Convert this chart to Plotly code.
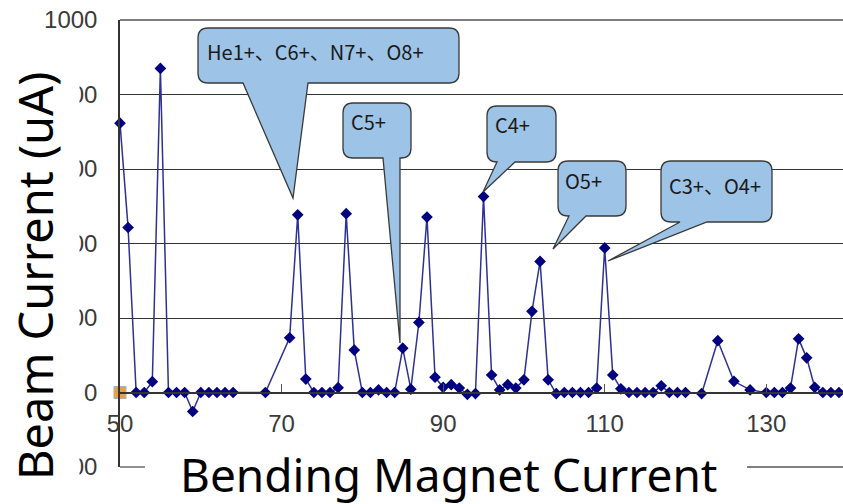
import plotly.graph_objects as go

# ---------------- data ----------------
bend_current = [50, 51, 52, 53, 54, 55, 56, 57, 58, 59, 60, 61, 62, 63, 64, 68,
                71, 72, 73, 74, 75, 76, 77, 78, 79, 80, 81, 82, 83, 84, 85, 86, 87, 88, 89, 90,
                91, 92, 93, 94, 95, 96, 97, 98, 99, 100, 101, 102, 103, 104, 105, 106, 107, 108, 109, 110,
                111, 112, 113, 114, 115, 116, 117, 118, 119, 120, 122, 124, 126, 128,
                130, 131, 132, 133, 134, 135, 136, 137, 138, 139]
beam_current = [723, 443, 0, 0, 29, 870, 0, 0, 0, -51, 0, 0, 0, 0, 0, 0,
                147, 477, 36, 0, 0, 0, 13, 480, 114, 0, 0, 7, 0, 0, 119, 9, 188, 471, 41, 14,
                21, 12, -5, -3, 526, 47, 7, 21, 12, 34, 218, 352, 34, -3, 0, 0, 0, 0, 12, 388,
                47, 10, 0, 0, 0, 0, 18, 0, 0, 0, -3, 139, 30, 7,
                0, 0, 0, 12, 144, 93, 14, 0, 0, 0]
second_x = [50]
second_y = [0]
x_ticks = [50, 70, 90, 110, 130]
y_ticks = [-200, 0, 200, 400, 600, 800, 1000]
callout_texts = ["He1+、C6+、N7+、O8+", "C5+", "C4+", "O5+", "C3+、O4+"]

# ---------------- geometry ----------------
W, H = 843, 504
L, R, T, B = 120, 0, 20, 37
XR = [50, 139.5]
YR = [-200, 1000]
pw = W - L - R
ph = H - T - B


def dx(px):
    return XR[0] + (px - L) / pw * (XR[1] - XR[0])


def dy(py):
    return YR[1] - (py - T) / ph * (YR[1] - YR[0])


def pxp(px):
    return (px - L) / pw


def pyp(py):
    return (H - B - py) / ph


# callout geometry in pixels: box(l,t,r,b), pointer base (b1,b2), tip (tx,ty), text anchor (x,y)
callouts = [
    dict(box=(198, 28, 459, 83), base=(243, 308), tip=(293, 198), txt=(205, 51)),
    dict(box=(343, 103, 411, 158), base=(383, 400), tip=(400, 343), txt=(349, 121)),
    dict(box=(487, 106, 556, 162), base=(497, 515), tip=(483, 192), txt=(493, 124)),
    dict(box=(558, 161, 626, 216), base=(569, 586), tip=(553, 249), txt=(563, 180)),
    dict(box=(661, 161, 772, 222), base=(680, 707), tip=(608, 261), txt=(667, 185)),
]


def callout_path(box, base, tip, rad=10):
    l, t, r, b = box
    b1, b2 = base
    tx, ty = tip

    def p(x, y):
        return f"{dx(x):.4f},{dy(y):.4f}"

    s = (f"M{p(l + rad, t)} L{p(r - rad, t)} Q{p(r, t)} {p(r, t + rad)} "
         f"L{p(r, b - rad)} Q{p(r, b)} {p(r - rad, b)} L{p(b2, b)} L{p(tx, ty)} "
         f"L{p(b1, b)} L{p(l + rad, b)} Q{p(l, b)} {p(l, b - rad)} "
         f"L{p(l, t + rad)} Q{p(l, t)} {p(l + rad, t)} Z")
    return s


fig = go.Figure()
fig.add_trace(go.Scatter(
    x=bend_current, y=beam_current, mode="lines+markers",
    line=dict(color="#2E3192", width=1.5),
    marker=dict(symbol="diamond", size=9, color="#000080"),
    cliponaxis=False, showlegend=False))
fig.add_trace(go.Scatter(
    x=second_x, y=second_y, mode="markers",
    marker=dict(symbol="square-x", size=12, color="#F59A35",
                line=dict(color="#B0B0B0", width=1)),
    cliponaxis=False, showlegend=False))

shapes = []
# plot frame pieces: top border and the visible ends of the bottom border
shapes.append(dict(type="line", xref="paper", yref="paper", x0=0, x1=1, y0=1, y1=1,
                   line=dict(color="#555", width=1.3), layer="below"))
shapes.append(dict(type="line", xref="paper", yref="paper", x0=0, x1=pxp(145), y0=0, y1=0,
                   line=dict(color="#555", width=1.3), layer="below"))
shapes.append(dict(type="line", xref="paper", yref="paper", x0=pxp(747), x1=1, y0=0, y1=0,
                   line=dict(color="#555", width=1.3), layer="below"))
for c in callouts:
    shapes.append(dict(type="path", xref="x", yref="y", layer="above",
                       path=callout_path(c["box"], c["base"], c["tip"]),
                       fillcolor="#9DC3E6", line=dict(color="#3A3A3A", width=1.3)))

annotations = []
for c, txt in zip(callouts, callout_texts):
    annotations.append(dict(x=dx(c["txt"][0]), y=dy(c["txt"][1]), xref="x", yref="y",
                            text=txt, showarrow=False, xanchor="left", yanchor="middle",
                            font=dict(family="Noto Sans CJK JP", size=20, color="#1A1A1A")))

annotations.append(dict(x=pxp(35), y=pyp(276), xref="paper", yref="paper",
                        text="Beam Current (uA)", textangle=-90, showarrow=False,
                        xanchor="center", yanchor="middle", bgcolor="white", borderpad=12,
                        font=dict(family="Noto Sans", size=47, color="black")))
annotations.append(dict(x=pxp(448), y=pyp(474), xref="paper", yref="paper",
                        text="Bending Magnet Current", showarrow=False,
                        xanchor="center", yanchor="middle", bgcolor="white", borderpad=0,
                        font=dict(family="Noto Sans", size=46, color="black")))

tickfont = dict(family="Liberation Sans Narrow, Liberation Sans, Arial", size=24, color="#3A3A3A")

fig.update_layout(
    width=W, height=H,
    margin=dict(l=L, r=R, t=T, b=B),
    paper_bgcolor="white", plot_bgcolor="white",
    shapes=shapes, annotations=annotations,
    xaxis=dict(range=XR, tickvals=x_ticks, ticktext=[str(v) for v in x_ticks],
               ticks="inside", ticklen=8, tickcolor="#555", tickwidth=1.2,
               showline=True, linecolor="#333", linewidth=1.5,
               anchor="free", position=(0 - YR[0]) / (YR[1] - YR[0]),
               showgrid=False, zeroline=False, tickfont=tickfont, ticklabelstandoff=10),
    yaxis=dict(range=YR, tickvals=y_ticks, ticktext=[str(v) for v in y_ticks],
               showgrid=True, gridcolor="#333", gridwidth=1.3,
               showline=True, linecolor="#333", linewidth=1.5,
               zeroline=False, ticks="", tickfont=tickfont, ticklabelstandoff=16),
)

fig.write_html("out.html", config={"displayModeBar": False},
               post_script="document.body.style.margin='0px';")
